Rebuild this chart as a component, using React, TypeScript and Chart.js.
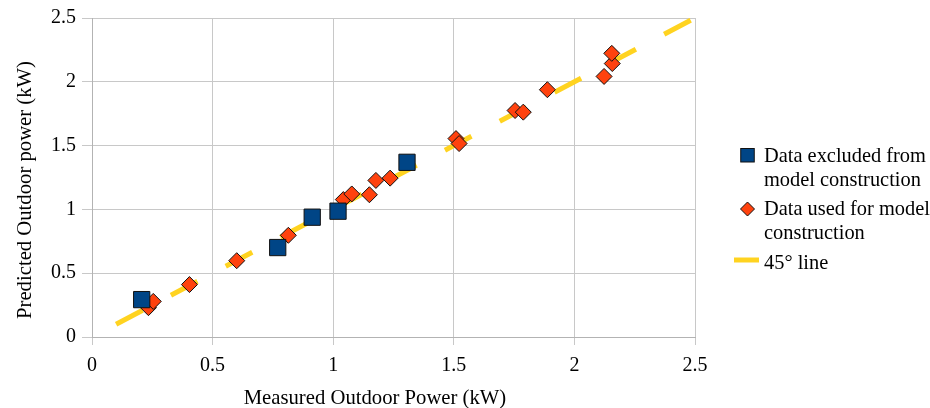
import React, { useEffect, useRef } from "react";
import { Chart, registerables } from "chart.js";

Chart.register(...registerables);

// Data excluded from model construction (blue squares)
const excludedX = [0.206, 0.77, 0.913, 1.02, 1.306];
const excludedY = [0.293, 0.701, 0.939, 0.986, 1.369];

// Data used for model construction (orange diamonds)
const usedX = [0.234, 0.254, 0.404, 0.6, 0.814, 1.042, 1.077, 1.15, 1.177, 1.236, 1.509, 1.522, 1.754, 1.788, 1.888, 2.123, 2.157, 2.155];
const usedY = [0.23, 0.279, 0.411, 0.598, 0.797, 1.077, 1.121, 1.115, 1.227, 1.245, 1.555, 1.516, 1.775, 1.762, 1.938, 2.042, 2.143, 2.223];

// 45° line
const lineX = [0.1, 2.5];
const lineY = [0.1, 2.5];

const axisMin = 0;
const axisMax = 2.5;
const axisStep = 0.5;

const legendLines1 = ["Data excluded from", "model construction"];
const legendLines2 = ["Data used for model", "construction"];
const legendLines3 = ["45° line"];
const xTitle = "Measured Outdoor Power (kW)";
const yTitle = "Predicted Outdoor power (kW)";

const BLUE = "#004586";
const ORANGE = "#FF420E";
const YELLOW = "#FFD320";
const FONT = "'Liberation Serif', 'Times New Roman', serif";

const toPts = (xs: number[], ys: number[]) => xs.map((x, i) => ({ x, y: ys[i] }));

export default function App() {
  const ref = useRef<HTMLCanvasElement | null>(null);

  useEffect(() => {
    document.body.style.margin = "0";
    const canvas = ref.current;
    if (!canvas) return;
    const chart = new Chart(canvas, {
      type: "scatter",
      data: {
        datasets: [
          {
            label: legendLines1.join(" "),
            data: toPts(excludedX, excludedY),
            pointStyle: "rect",
            pointRadius: 11.5,
            pointHoverRadius: 11.5,
            backgroundColor: BLUE,
            borderColor: "#111",
            borderWidth: 1,
          },
          {
            label: legendLines2.join(" "),
            data: toPts(usedX, usedY),
            pointStyle: "rectRot",
            pointRadius: 8,
            pointHoverRadius: 8,
            backgroundColor: ORANGE,
            borderColor: "#111",
            borderWidth: 1,
          },
          {
            label: legendLines3[0],
            data: toPts(lineX, lineY),
            showLine: true,
            pointRadius: 0,
            borderColor: YELLOW,
            backgroundColor: YELLOW,
            borderWidth: 5,
            borderDash: [30, 32],
            borderCapStyle: "butt",
          } as any,
        ],
      },
      options: {
        responsive: false,
        animation: false,
        events: [],
        layout: { padding: { left: 0, top: 15, right: 235, bottom: 0 } },
        plugins: {
          legend: { display: false },
          tooltip: { enabled: false },
        },
        scales: {
          x: {
            type: "linear",
            min: axisMin,
            max: axisMax,
            ticks: {
              stepSize: axisStep,
              color: "#000",
              font: { family: FONT, size: 20 },
              padding: 9,
              maxRotation: 0,
              callback: (v: any) => String(Number(v)),
            },
            grid: { color: "#c8c8c8", lineWidth: 1, tickLength: 8 },
            border: { color: "#b3b3b3", width: 1 },
            afterFit: (axis: any) => {
              axis.height = 71;
            },
          },
          y: {
            type: "linear",
            min: axisMin,
            max: axisMax,
            ticks: {
              stepSize: axisStep,
              color: "#000",
              font: { family: FONT, size: 20 },
              padding: 6,
              callback: (v: any) => String(Number(v)),
            },
            grid: { color: "#c8c8c8", lineWidth: 1, tickLength: 10 },
            border: { color: "#b3b3b3", width: 1 },
            afterFit: (axis: any) => {
              axis.width = 92;
            },
          },
        },
      },
    });
    return () => chart.destroy();
  }, []);

  const textStyle: React.CSSProperties = {
    position: "absolute",
    left: 764,
    fontFamily: FONT,
    fontSize: 20.4,
    lineHeight: "24px",
    color: "#000",
    whiteSpace: "nowrap",
  };

  const titleStyle: React.CSSProperties = {
    position: "absolute",
    width: 400,
    height: 24,
    textAlign: "center",
    fontFamily: FONT,
    fontSize: 20.7,
    lineHeight: "24px",
    color: "#000",
    whiteSpace: "nowrap",
  };

  return (
    <div style={{ position: "relative", width: 930, height: 408, background: "#fff", overflow: "hidden" }}>
      <canvas ref={ref} width={930} height={408} style={{ display: "block", width: 930, height: 408 }} />
      <div style={{ ...titleStyle, left: 175, top: 385 }}>{xTitle}</div>
      <div
        style={{
          ...titleStyle,
          left: 23.5 - 200,
          top: 190 - 12,
          transform: "rotate(-90deg)",
          transformOrigin: "50% 50%",
        }}
      >
        {yTitle}
      </div>
      <svg width={40} height={140} style={{ position: "absolute", left: 730, top: 140 }}>
        <rect x={10.75} y={8.5} width={13.5} height={13.5} fill={BLUE} stroke="#111" strokeWidth={1} />
        <polygon points="17.5,62 24.5,69 17.5,76 10.5,69" fill={ORANGE} stroke="#111" strokeWidth={1} />
        <line x1={4} y1={120} x2={29} y2={120} stroke={YELLOW} strokeWidth={5} />
      </svg>
      <div style={{ ...textStyle, top: 143 }}>
        {legendLines1[0]}
        <br />
        {legendLines1[1]}
      </div>
      <div style={{ ...textStyle, top: 196 }}>
        {legendLines2[0]}
        <br />
        {legendLines2[1]}
      </div>
      <div style={{ ...textStyle, top: 249.5 }}>{legendLines3[0]}</div>
    </div>
  );
}
